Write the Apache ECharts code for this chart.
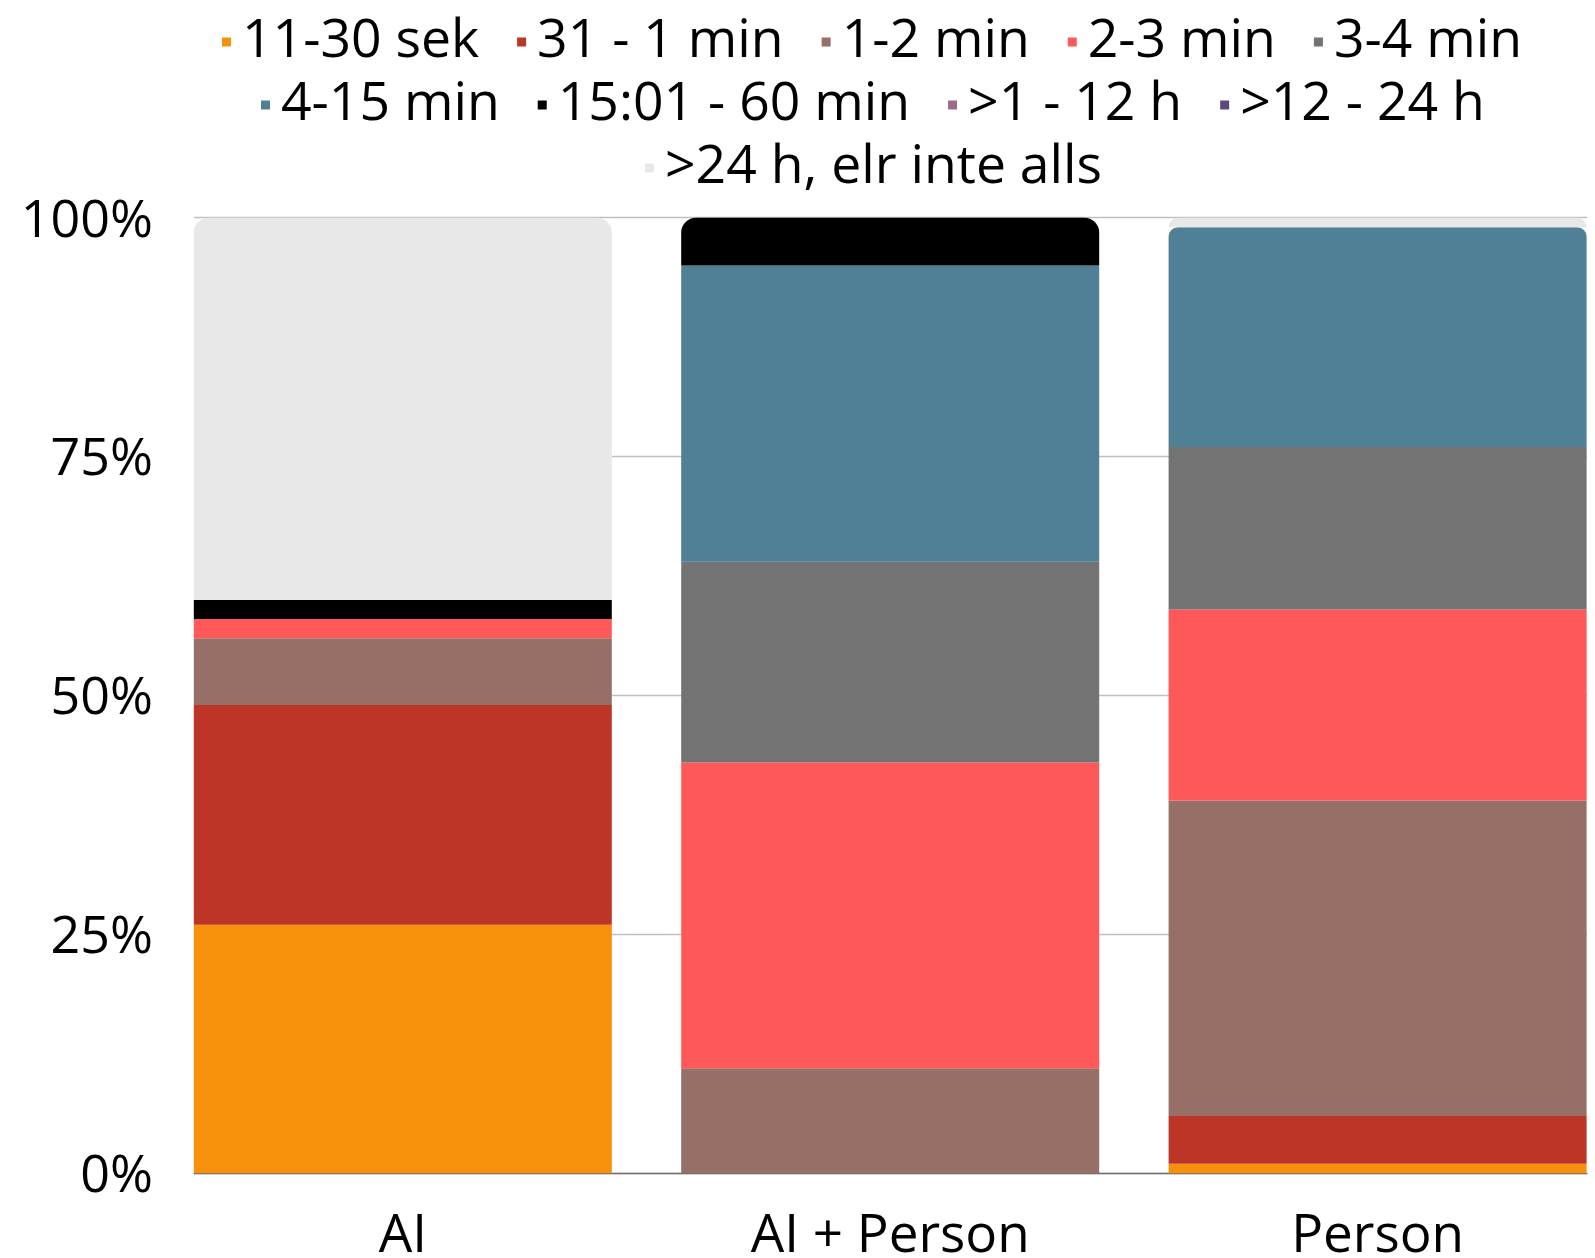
<!DOCTYPE html>
<html>
<head>
<meta charset="utf-8">
<script src="https://cdn.jsdelivr.net/npm/echarts@6/dist/echarts.min.js"></script>
<style>
  html, body { margin: 0; padding: 0; background: #ffffff; }
  #chart { width: 1595px; height: 1258px; }
</style>
</head>
<body>
<div id="chart"></div>
<script>
// Response time shares (percent) per handling type
const categories = ['AI', 'AI + Person', 'Person'];

const seriesNames = [
  '11-30 sek', '31 - 1 min', '1-2 min', '2-3 min', '3-4 min',
  '4-15 min', '15:01 - 60 min', '>1 - 12 h', '>12 - 24 h', '>24 h, elr inte alls'
];

const seriesColors = [
  '#F7900A', '#BD3526', '#967066', '#FF5858', '#737373',
  '#508096', '#000000', '#9A6A8F', '#5E4A7A', '#E8E8E8'
];

// one array per response-time bucket, ordered like categories
const sek11to30   = [26, 0, 1];
const sek31to1min = [23, 0, 5];
const min1to2     = [7, 11, 33];
const min2to3     = [2, 32, 20];
const min3to4     = [0, 21, 17];
const min4to15    = [0, 31, 23];
const min15to60   = [2, 5, 0];
const h1to12      = [0, 0, 0];
const h12to24     = [0, 0, 0];
const over24h     = [40, 0, 1];

const yTicks = [0, 25, 50, 75, 100];

const seriesValues = [
  sek11to30, sek31to1min, min1to2, min2to3, min3to4,
  min4to15, min15to60, h1to12, h12to24, over24h
];

const FONT = '"Open Sans", "Noto Sans", sans-serif';
const CORNER = 15;
const PLOT_TOP = 217.7, PLOT_BOTTOM = 84.7;
const LABEL_DROP = 4; // value labels sit a touch below their gridline
const pxPerPct = (1258 - PLOT_TOP - PLOT_BOTTOM) / 100;

// rounded top corners: the whole stack reads as one rounded bar
function cornerRadius(catIdx, serIdx) {
  let below = 0;
  for (let s = 0; s < serIdx; s++) below += seriesValues[s][catIdx];
  const topPct = below + seriesValues[serIdx][catIdx];
  const dist = (100 - topPct) * pxPerPct;
  if (dist > CORNER) return 0;
  return Math.max(0, CORNER - dist * 0.6);
}

const series = seriesNames.map((name, si) => ({
  name: name,
  type: 'bar',
  stack: 'total',
  xAxisIndex: 1,
  yAxisIndex: 1,
  barWidth: 418,
  itemStyle: { color: seriesColors[si] },
  data: seriesValues[si].map((v, ci) => {
    const r = v > 0 ? cornerRadius(ci, si) : 0;
    return { value: v, itemStyle: { borderRadius: [r, r, 0, 0] } };
  })
}));

function legendRow(names, left, top) {
  return {
    data: names,
    left: left,
    top: top,
    orient: 'horizontal',
    padding: 0,
    icon: 'rect',
    itemWidth: 9,
    itemHeight: 9,
    itemGap: 38,
    selectedMode: false,
    textStyle: {
      fontFamily: FONT,
      fontSize: 53.5,
      color: '#000000',
      padding: [0, 0, 0, 6]
    }
  };
}

const option = {
  backgroundColor: '#ffffff',
  animation: false,
  color: seriesColors,
  legend: [
    legendRow(seriesNames.slice(0, 5), 222, 15),
    legendRow(seriesNames.slice(5, 9), 261, 78),
    legendRow(seriesNames.slice(9), 645, 141)
  ],
  grid: [
    // frame for gridlines and baseline
    { left: 194, right: 8, top: PLOT_TOP, bottom: PLOT_BOTTOM, outerBoundsMode: 'none' },
    // frame holding the bars; bands run edge to edge of the plot
    { left: 159.1, width: 1462.2, top: PLOT_TOP, bottom: PLOT_BOTTOM, outerBoundsMode: 'none' },
    // frame carrying the percentage labels
    { left: 194, right: 8, top: PLOT_TOP + LABEL_DROP, bottom: PLOT_BOTTOM - LABEL_DROP, outerBoundsMode: 'none' }
  ],
  xAxis: [
    {
      gridIndex: 0,
      type: 'value',
      min: 0, max: 1,
      axisLine: { show: true, lineStyle: { color: '#707070', width: 1.3 } },
      axisTick: { show: false },
      axisLabel: { show: false },
      splitLine: { show: false }
    },
    {
      gridIndex: 1,
      type: 'category',
      data: categories,
      axisLine: { show: false },
      axisTick: { show: false },
      axisLabel: {
        fontFamily: FONT,
        fontSize: 53,
        color: '#000000',
        margin: 37
      }
    },
    {
      gridIndex: 2,
      type: 'value',
      min: 0, max: 1,
      show: false
    }
  ],
  yAxis: [
    {
      gridIndex: 0,
      type: 'value',
      min: yTicks[0],
      max: yTicks[yTicks.length - 1],
      interval: yTicks[1] - yTicks[0],
      axisLine: { show: false },
      axisTick: { show: false },
      axisLabel: { show: false },
      splitLine: { show: true, lineStyle: { color: '#BFBFBF', width: 1.4 } }
    },
    {
      gridIndex: 1,
      type: 'value',
      min: yTicks[0],
      max: yTicks[yTicks.length - 1],
      show: false,
      splitLine: { show: false }
    },
    {
      gridIndex: 2,
      type: 'value',
      min: yTicks[0],
      max: yTicks[yTicks.length - 1],
      interval: yTicks[1] - yTicks[0],
      axisLine: { show: false },
      axisTick: { show: false },
      splitLine: { show: false },
      axisLabel: {
        formatter: '{value}%',
        fontFamily: FONT,
        fontSize: 52,
        color: '#000000',
        margin: 41
      }
    }
  ],
  series: series
};

const chart = echarts.init(document.getElementById('chart'), null, { renderer: 'canvas' });
chart.setOption(option);
</script>
</body>
</html>
